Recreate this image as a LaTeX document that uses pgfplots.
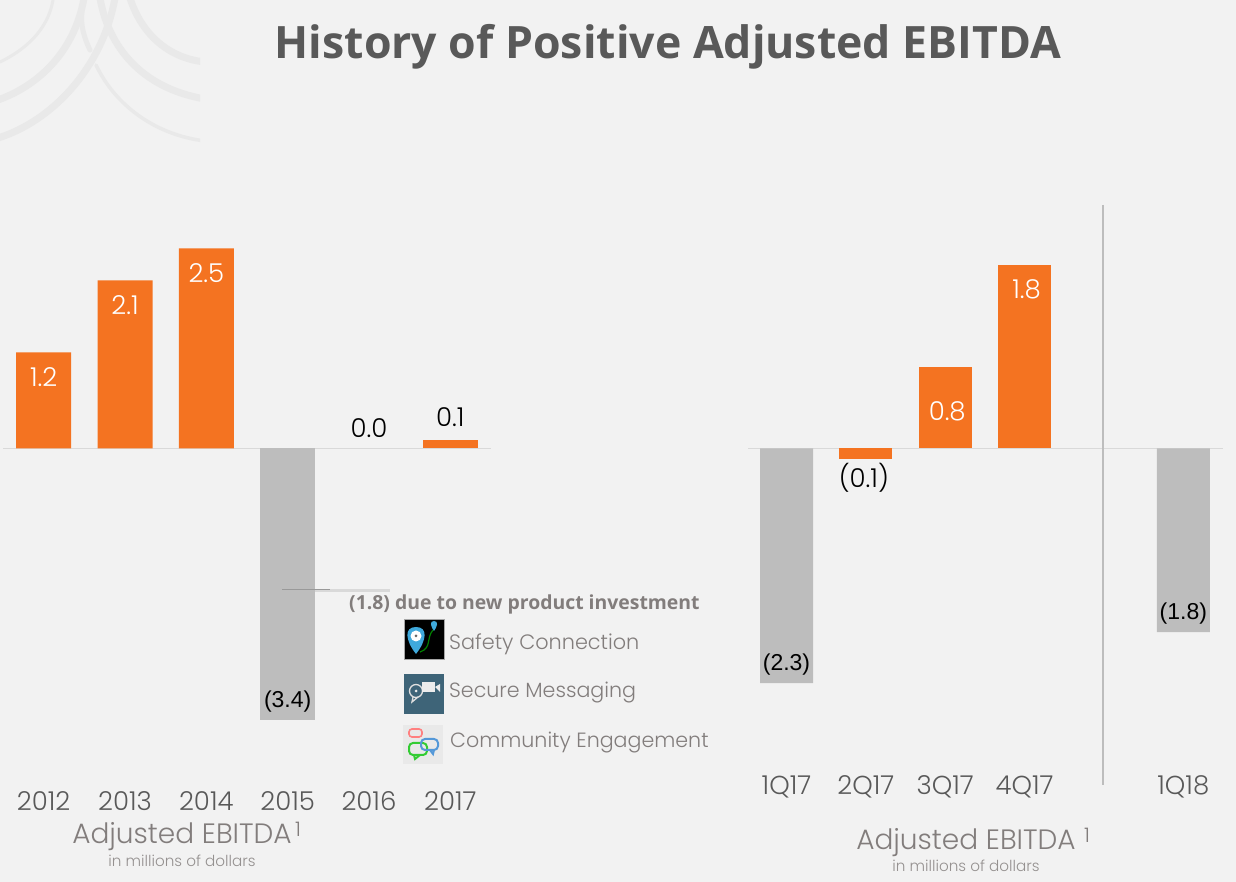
\documentclass[border=0pt]{standalone}
\usepackage{fontspec}
\setmainfont{Poppins Light}
\newfontfamily\titlefont{Open Sans}
\newfontfamily\arialfont{Liberation Sans}
\usepackage{pgfplots}
\pgfplotsset{compat=1.18}
\definecolor{bgcol}{HTML}{F2F2F2}
\definecolor{wmark}{HTML}{E9E9E9}
\definecolor{barorange}{HTML}{F47321}
\definecolor{bargrey}{HTML}{BDBDBD}
\definecolor{zeroline}{HTML}{D9D9D9}
\definecolor{darktext}{HTML}{595959}
\definecolor{softtext}{HTML}{827D7C}
\definecolor{steelcol}{HTML}{3E6478}
\definecolor{pinblue}{HTML}{3FA9DC}
\newcommand{\fs}[1]{\fontsize{#1}{#1}\selectfont}
\pgfplotsset{
  chart/.style={
    scale only axis, clip=false,
    hide y axis, axis x line=bottom,
    axis line style={draw=none}, major tick length=0pt,
    ybar, bar shift=0pt, tick align=outside,
    xticklabel style={anchor=center, yshift=-17pt, text=darktext, font=\fs{26}},
    xtick style={draw=none},
  },
  vals/.style 2 args={
    bar width=#1, draw=none, fill=#2,
    point meta=explicit symbolic, nodes near coords,
  },
  lab/.style n args={3}{
    nodes near coords style={anchor=center, xshift=#3, yshift=#1, text=#2, font=\fs{26}},
  },
  arial/.style={
    nodes near coords style={font=\arialfont\fs{23}},
  },
}
\begin{document}
\begin{tikzpicture}[x=1pt,y=1pt]
\useasboundingbox (0,0) rectangle (1236,882);
\fill[bgcol] (0,0) rectangle (1236,882);

% watermark, top left corner
\begin{scope}[shift={(0,882)}, y=-1pt]
  \clip (0,0) rectangle (200,144);
  \begin{scope}[draw=wmark, line cap=round]
    \draw[line width=3pt] (0,62) .. controls (25,50) and (48,30) .. (53,0);
    \draw[line width=7pt] (-2,100) .. controls (40,85) and (75,50) .. (84,-2);
    \draw[line width=7pt] (-2,138) .. controls (50,122) and (102,70) .. (115,-2);
    \draw[line width=7pt] (100,-2) .. controls (108,45) and (140,88) .. (205,99);
    \draw[line width=7pt] (130,-2) .. controls (140,30) and (165,58) .. (205,62);
    \draw[line width=3.5pt] (96,65) .. controls (115,105) and (155,135) .. (205,141);
    \draw[line width=5pt] (82,12) .. controls (80,25) and (85,40) .. (90,50);
  \end{scope}
\end{scope}

% left chart
\begin{axis}[chart, anchor=south west, at={(3pt,97.5pt)},
  width=488pt, height=544pt,
  xmin=-0.5, xmax=5.5, ymin=-4.2, ymax=2.6,
  xtick={0,1,2,3,4,5},
  xticklabels={2012,2013,2014,2015,2016,2017}]
\addplot[zeroline, line width=1.2pt, sharp plot] coordinates {(-0.5,0)(5.5,0)};
\addplot[vals={55pt}{barorange}, lab={-25pt}{white}{0pt}] coordinates {(0,1.2)[1.2] (1,2.1)[2.1] (2,2.5)[2.5]};
\addplot[vals={55pt}{bargrey}, lab={19pt}{black}{0pt}, arial] coordinates {(3,-3.4)[(3.4)]};
\addplot[vals={55pt}{none}, fill=none, lab={20pt}{black}{0pt}] coordinates {(4,0.0)[0.0]};
\addplot[vals={55pt}{barorange}, lab={23pt}{black}{0pt}] coordinates {(5,0.1)[0.1]};
\end{axis}

% right chart
\begin{axis}[chart, anchor=south west, at={(748pt,112pt)},
  width=475pt, height=570pt,
  xmin=-0.485, xmax=5.5, ymin=-3.152, ymax=2.436,
  xtick={0,1,2,3,5},
  xticklabels={1Q17,2Q17,3Q17,4Q17,1Q18}]
\addplot[zeroline, line width=1.2pt, sharp plot] coordinates {(-0.485,0)(5.5,0)};
\addplot[vals={53pt}{bargrey}, lab={19pt}{black}{0pt}, arial] coordinates {(0,-2.3)[(2.3)] (5,-1.8)[(1.8)]};
\addplot[vals={53pt}{barorange}, lab={-19pt}{black}{-2pt}] coordinates {(1,-0.1)[(0.1)]};
\addplot[vals={53pt}{barorange}, lab={-44pt}{white}{2pt}] coordinates {(2,0.8)[0.8]};
\addplot[vals={53pt}{barorange}, lab={-24pt}{white}{2pt}] coordinates {(3,1.8)[1.8]};
\end{axis}

% everything placed in reference pixels
\begin{scope}[shift={(0,882)}, y=-1pt]
  \draw[bargrey, line width=1.3pt] (1103,205) -- (1103,785);

  \node[text=darktext] at (668,47) {\titlefont\bfseries\fs{44.6}History of Positive Adjusted EBITDA};

  \draw[line width=2.5pt, zeroline] (315,590.5) -- (390,590.5);
  \draw[line width=1pt, gray!80] (282,590) -- (330,590);

  \node[anchor=west, text=softtext, inner sep=0pt] at (349,604) {\titlefont\bfseries\fs{19.4}(1.8) due to new product investment};
  \node[anchor=west, text=softtext, inner sep=0pt] at (449,644) {\fs{20.8}Safety Connection};
  \node[anchor=west, text=softtext, inner sep=0pt] at (449,693) {\fs{20.6}Secure Messaging};
  \node[anchor=west, text=softtext, inner sep=0pt] at (450,743) {\fs{20.6}Community Engagement};

  % icons
  \fill[black, draw=gray!70] (404,619) rectangle (444,659);
  \fill[pinblue] (416,627) .. controls (428,627) and (427,640) .. (416,654) .. controls (405,640) and (404,627) .. (416,627);
  \fill[white] (416,636) circle (5.5);
  \fill[black!60] (416,636) circle (1.5);
  \draw[green!50!black, line width=1.2pt] (420,652) .. controls (432,648) and (426,638) .. (433,630);
  \fill[pinblue] (434,621) .. controls (439,621) and (437,627) .. (434,631) .. controls (431,627) and (429,621) .. (434,621);
  \fill[steelcol] (404,674) rectangle (444,714);
  \draw[white!75!gray, line width=1.3pt] (416,691) circle (6.5);
  \draw[white!75!gray, line width=1.3pt] (413,697) -- (412,702) -- (418,697);
  \fill[white!85!gray] (416,691) circle (1.5);
  \fill[white!85!gray] (422,682) rectangle (435,692);
  \fill[white!85!gray] (435,687) -- (440,684) -- (440,692) -- cycle;
  \fill[wmark] (403,725) rectangle (443,764);
  \draw[red!50!white, line width=1.6pt, rounded corners=3pt] (409,729) rectangle (422,737);
  \draw[green!60!gray, line width=2pt, rounded corners=4pt] (409,743) rectangle (427,755);
  \draw[green!60!gray, line width=2pt] (414,755) -- (415,759) -- (420,755);
  \draw[cyan!60!blue!70!white, line width=2pt, rounded corners=4pt] (421,739) rectangle (438,750);
  \draw[cyan!60!blue!70!white, line width=2pt] (430,750) -- (433,754) -- (434,750);

  % captions under the charts
  \node[text=softtext] at (182,837) {\fs{28}Adjusted EBITDA};
  \node[text=softtext] at (298,829) {\fs{20}1};
  \node[text=softtext!85] at (182,861) {\fs{15.2}in millions of dollars};
  \node[text=softtext] at (966,843) {\fs{28}Adjusted EBITDA};
  \node[text=softtext] at (1087,835) {\fs{20}1};
  \node[text=softtext!85] at (966,866) {\fs{15.2}in millions of dollars};
\end{scope}
\end{tikzpicture}
\end{document}
